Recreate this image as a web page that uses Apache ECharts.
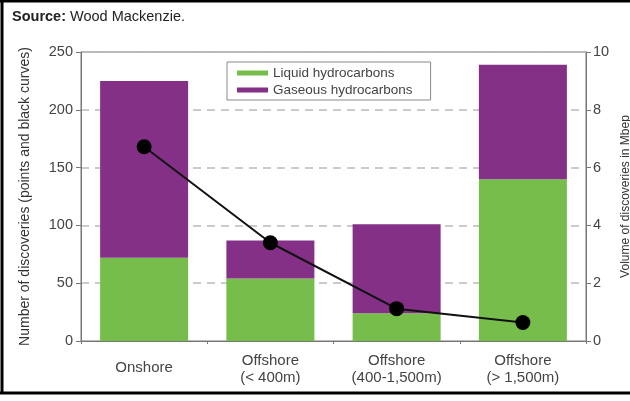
<!DOCTYPE html>
<html><head><meta charset="utf-8">
<script src="https://cdn.jsdelivr.net/npm/echarts@6/dist/echarts.min.js"></script>
<style>html,body{margin:0;padding:0;background:#fff}#c{width:630px;height:401px}</style>
</head><body><div id="c"></div>
<script>
const categories = ['Onshore', 'Offshore\n(< 400m)', 'Offshore\n(400-1,500m)', 'Offshore\n(> 1,500m)'];
const liquidMbep = [2.88, 2.16, 0.96, 5.6];
const gaseousMbep = [6.12, 1.32, 3.08, 3.96];
const discoveries = [168, 85, 28, 16];

const chart = echarts.init(document.getElementById('c'), null, {renderer: 'canvas'});
const font = 'Liberation Sans, Arial, sans-serif';
chart.setOption({
  animation: false,
  backgroundColor: '#fff',
  textStyle: {fontFamily: font},
  grid: {left: 81, right: 44, top: 52, bottom: 60, show: true, borderColor: '#777', borderWidth: 1,
         containLabel: false, outerBoundsMode: 'none'},
  legend: {
    left: 227, top: 62, orient: 'vertical',
    backgroundColor: '#fff', borderColor: '#888', borderWidth: 1,
    padding: [4, 18, 3, 10], itemGap: 3, itemWidth: 31, itemHeight: 5,
    icon: 'rect',
    textStyle: {fontSize: 13.5, color: '#444', fontFamily: font},
    data: ['Liquid hydrocarbons', 'Gaseous hydrocarbons']
  },
  xAxis: {
    type: 'category', data: categories,
    axisLine: {lineStyle: {color: '#777'}},
    axisTick: {show: true, length: 3, lineStyle: {color: '#777'}},
    axisLabel: {
      fontSize: 15, color: '#444', lineHeight: 17, margin: 11,
      formatter: v => v === 'Onshore' ? '{c|Onshore}' : v,
      rich: {c: {fontSize: 15, color: '#444', padding: [14, 0, 0, 0]}}
    }
  },
  yAxis: [
    {
      type: 'value', min: 0, max: 250, interval: 50, position: 'left',
      name: 'Number of discoveries (points and black curves)',
      nameLocation: 'middle', nameGap: 49, nameRotate: 90,
      nameTextStyle: {fontSize: 14, color: '#333'},
      axisLine: {show: true, lineStyle: {color: '#777'}},
      axisTick: {show: true, length: 5, lineStyle: {color: '#777'}},
      axisLabel: {fontSize: 14.5, color: '#444', margin: 8},
      splitLine: {show: true, lineStyle: {color: '#bbb', type: [8, 6], width: 1.5}}
    },
    {
      type: 'value', min: 0, max: 10, interval: 2, position: 'right',
      name: 'Volume of discoveries in Mbep',
      nameLocation: 'middle', nameGap: 33, nameRotate: 90,
      nameTextStyle: {fontSize: 12, color: '#333'},
      axisLine: {show: true, lineStyle: {color: '#777'}},
      axisTick: {show: true, length: 5, lineStyle: {color: '#777'}},
      axisLabel: {fontSize: 14.5, color: '#444', margin: 7},
      splitLine: {show: false}
    }
  ],
  series: [
    {name: 'Liquid hydrocarbons', type: 'bar', stack: 'v', yAxisIndex: 1, barWidth: 88,
     itemStyle: {color: '#76bd4c'}, data: liquidMbep},
    {name: 'Gaseous hydrocarbons', type: 'bar', stack: 'v', yAxisIndex: 1, barWidth: 88,
     itemStyle: {color: '#843087'}, data: gaseousMbep},
    {name: 'Discoveries', type: 'line', yAxisIndex: 0, z: 5,
     symbol: 'circle', symbolSize: 15,
     lineStyle: {color: '#111', width: 2}, itemStyle: {color: '#000'},
     data: discoveries}
  ],
  graphic: [
    {type: 'text', left: 12, top: 9, style: {
      text: '{b|Source:} Wood Mackenzie.',
      rich: {b: {fontWeight: 'bold', fontSize: 14.5, fill: '#222', fontFamily: font}},
      fontSize: 14.5, fill: '#222', fontFamily: font}},
    {type: 'line', shape: {x1: 0, y1: 1, x2: 630, y2: 1}, style: {stroke: '#000', lineWidth: 3}},
    {type: 'line', shape: {x1: 2, y1: 0, x2: 2, y2: 394}, style: {stroke: '#000', lineWidth: 3}},
    {type: 'line', shape: {x1: 0, y1: 393, x2: 630, y2: 393}, style: {stroke: '#000', lineWidth: 3}}
  ]
});
</script></body></html>
